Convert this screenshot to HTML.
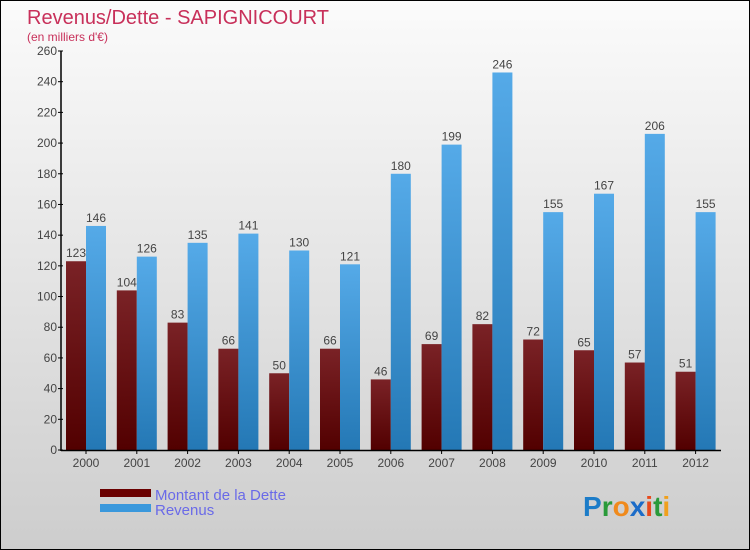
<!DOCTYPE html>
<html><head><meta charset="utf-8"><style>
body{margin:0}
#c{position:relative;width:748px;height:548px;border:1px solid #000;background:linear-gradient(#fbfbfb,#cdcdcd);font-family:"Liberation Sans",sans-serif;overflow:hidden}
</style></head><body>
<div id="c">
<svg id="s" width="748" height="548" style="position:absolute;left:0;top:0">
<defs>
<linearGradient id="gd" x1="0" y1="0" x2="0" y2="1"><stop offset="0" stop-color="#7a2226"/><stop offset="1" stop-color="#520000"/></linearGradient>
<linearGradient id="gr" x1="0" y1="0" x2="0" y2="1"><stop offset="0" stop-color="#55aae8"/><stop offset="1" stop-color="#2478b5"/></linearGradient>
</defs>
<text x="26" y="23" font-size="20" fill="#c8305a">Revenus/Dette - SAPIGNICOURT</text>
<text x="26" y="40" font-size="12" fill="#c8305a">(en milliers d'€)</text>
<g id="g"></g>
<rect x="99" y="488" width="51" height="8" fill="#6a0000"/>
<rect x="99" y="503" width="51" height="8" fill="#3a98dc"/>
<text x="154" y="499" font-size="15" fill="#6a6ae8">Montant de la Dette</text>
<text x="154" y="514" font-size="15" fill="#6a6ae8">Revenus</text>
<text x="582" y="515" font-size="28" font-weight="bold"><tspan fill="#1c7cc8">P</tspan><tspan fill="#2a9a3a">r</tspan><tspan fill="#f08a1c">o</tspan><tspan fill="#1c6cc8">x</tspan><tspan fill="#e84a1c">i</tspan><tspan fill="#2a9a3a">t</tspan><tspan fill="#f0a01c">i</tspan></text>
</svg>
</div>
<script>
const categories=["2000","2001","2002","2003","2004","2005","2006","2007","2008","2009","2010","2011","2012"];
const dette=[123,104,83,66,50,66,46,69,82,72,65,57,51];
const revenus=[146,126,135,141,130,121,180,199,246,155,167,206,155];
const yTicks=[0,20,40,60,80,100,120,140,160,180,200,220,240,260];
const NS="http://www.w3.org/2000/svg";
const g=document.getElementById('g');
const x0=60,x1=720,yb=449,yt=50,ymax=260;
const step=50.8;
const y=v=>yb-(v/ymax)*(yb-yt);
const xg=i=>65+i*step;
function el(t,a,txt){const e=document.createElementNS(NS,t);for(const k in a)e.setAttribute(k,a[k]);if(txt!=null)e.textContent=txt;g.appendChild(e);return e;}
yTicks.forEach(v=>{
 const l=el('line',{x1:x0-3,x2:x0+2,y1:y(v),y2:y(v),stroke:'#000'});
 
 
 const t=el('text',{x:x0-4,y:y(v)+4,'font-size':12,'text-anchor':'end',fill:'#444'},v);
 
 
});
const bw=20;
categories.forEach((c,i)=>{
 const xs=xg(i);
 const b1=el('rect',{x:xs,y:y(dette[i]),width:bw,height:yb-y(dette[i]),fill:'url(#gd)'});
 
 
 const b2=el('rect',{x:xs+bw,y:y(revenus[i]),width:bw,height:yb-y(revenus[i]),fill:'url(#gr)'});
 
 
 const l1=el('text',{x:xs+bw/2,y:y(dette[i])-4,'font-size':12,'text-anchor':'middle',fill:'#444'},dette[i]);
 
 
 const l2=el('text',{x:xs+bw*1.5,y:y(revenus[i])-4,'font-size':12,'text-anchor':'middle',fill:'#444'},revenus[i]);
 
 
 const tk=el('line',{x1:xs+bw,x2:xs+bw,y1:yb,y2:yb+4,stroke:'#000'});
 
 
 const xl=el('text',{x:xs+bw,y:466,'font-size':12,'text-anchor':'middle',fill:'#444'},c);
 
 
});
const ya=el('line',{x1:x0,x2:x0,y1:yt,y2:yb+1,stroke:'#000','stroke-width':1.5});


const xa=el('line',{x1:x0,x2:x1,y1:yb+0.5,y2:yb+0.5,stroke:'#000','stroke-width':1.5});


</script>
</body></html>
